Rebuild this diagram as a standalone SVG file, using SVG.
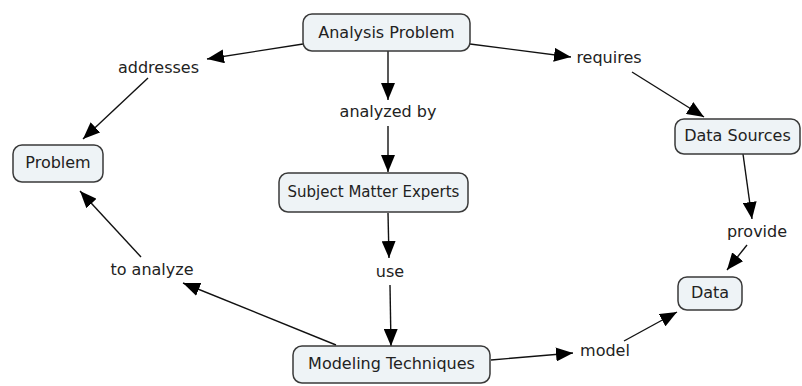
<svg xmlns="http://www.w3.org/2000/svg" width="802" height="386" viewBox="0 0 802 386">
  <style>
    .node rect { fill: #eef3f6; stroke: #3a3a3a; stroke-width: 1.5; }
    text { font-family: "DejaVu Sans", Verdana, sans-serif; font-size: 16px; fill: #222; text-anchor: middle; }
    .edge { stroke: #111; stroke-width: 1.4; fill: none; marker-end: url(#arrow); }
  </style>
  <defs>
    <marker id="arrow" markerUnits="userSpaceOnUse" markerWidth="18" markerHeight="14" refX="17" refY="7" orient="auto">
      <path d="M0,0 L17,7 L0,14 Z" fill="#000"/>
    </marker>
  </defs>

  <rect width="802" height="386" fill="#fff"/>

  <!-- connectors -->
  <g id="connectors">
    <line class="edge" x1="303" y1="44" x2="207" y2="59"/>
    <line class="edge" x1="148" y1="78" x2="83" y2="139"/>
    <line class="edge" x1="470" y1="44" x2="571" y2="57"/>
    <line class="edge" x1="632" y1="72" x2="704" y2="117"/>
    <line class="edge" x1="743" y1="154" x2="752" y2="219"/>
    <line class="edge" x1="747" y1="245" x2="727" y2="270"/>
    <line class="edge" x1="388" y1="51" x2="388" y2="100"/>
    <line class="edge" x1="388" y1="126" x2="388" y2="172"/>
    <line class="edge" x1="388" y1="213" x2="389" y2="258"/>
    <line class="edge" x1="390" y1="285" x2="391" y2="346"/>
    <line class="edge" x1="336" y1="345" x2="183" y2="283"/>
    <line class="edge" x1="141" y1="257" x2="80" y2="191"/>
    <line class="edge" x1="491" y1="360" x2="573" y2="353"/>
    <line class="edge" x1="624" y1="341" x2="677" y2="312"/>
  </g>

  <!-- concepts -->
  <g id="analysis-problem" class="node">
    <rect x="303" y="14" width="167" height="37" rx="9"/>
    <text x="386.5" y="38">Analysis Problem</text>
  </g>
  <g id="problem" class="node">
    <rect x="13" y="145" width="90" height="37" rx="9"/>
    <text x="58" y="168">Problem</text>
  </g>
  <g id="data-sources" class="node">
    <rect x="675" y="119" width="125" height="35" rx="9"/>
    <text x="737.5" y="141">Data Sources</text>
  </g>
  <g id="subject-matter-experts" class="node">
    <rect x="279" y="173" width="189" height="39" rx="9"/>
    <text x="373.5" y="197" style="font-size:15px">Subject Matter Experts</text>
  </g>
  <g id="modeling-techniques" class="node">
    <rect x="293" y="346" width="197" height="37" rx="9"/>
    <text x="391.5" y="369">Modeling Techniques</text>
  </g>
  <g id="data" class="node">
    <rect x="678" y="277" width="64" height="33" rx="9"/>
    <text x="710" y="298">Data</text>
  </g>

  <!-- linking phrases -->
  <g id="addresses"><text x="158.5" y="73">addresses</text></g>
  <g id="requires"><text x="609" y="63">requires</text></g>
  <g id="analyzed-by"><text x="388" y="117">analyzed by</text></g>
  <g id="use"><text x="390" y="277">use</text></g>
  <g id="to-analyze"><text x="152" y="275">to analyze</text></g>
  <g id="model"><text x="605" y="356">model</text></g>
  <g id="provide"><text x="757" y="237">provide</text></g>
</svg>
